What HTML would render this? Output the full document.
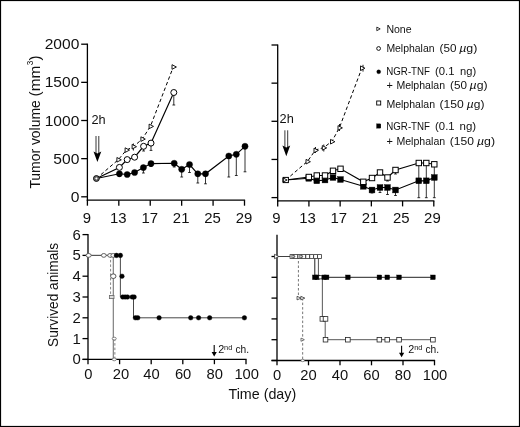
<!DOCTYPE html>
<html><head><meta charset="utf-8"><title>Figure</title>
<style>
html,body{margin:0;padding:0;background:#fff;}
body{width:520px;height:427px;overflow:hidden;position:relative;}
svg{position:absolute;left:0;top:0;display:block;will-change:transform;}
svg text{font-family:"Liberation Sans",sans-serif;fill:#111;}
</style></head><body>
<svg width="520" height="427" viewBox="0 0 520 427">
<rect x="0" y="0" width="520" height="427" fill="#fff"/>
<line x1="87.40" y1="43.60" x2="87.40" y2="200.80" stroke="#000" stroke-width="1.3" />
<line x1="81.20" y1="196.80" x2="87.40" y2="196.80" stroke="#000" stroke-width="1.3" />
<line x1="81.20" y1="158.65" x2="87.40" y2="158.65" stroke="#000" stroke-width="1.3" />
<line x1="81.20" y1="120.50" x2="87.40" y2="120.50" stroke="#000" stroke-width="1.3" />
<line x1="81.20" y1="82.35" x2="87.40" y2="82.35" stroke="#000" stroke-width="1.3" />
<line x1="81.20" y1="44.20" x2="87.40" y2="44.20" stroke="#000" stroke-width="1.3" />
<line x1="86.80" y1="200.20" x2="245.10" y2="200.20" stroke="#000" stroke-width="1.3" />
<line x1="87.40" y1="200.20" x2="87.40" y2="205.70" stroke="#000" stroke-width="1.3" />
<line x1="118.82" y1="200.20" x2="118.82" y2="205.70" stroke="#000" stroke-width="1.3" />
<line x1="150.24" y1="200.20" x2="150.24" y2="205.70" stroke="#000" stroke-width="1.3" />
<line x1="181.66" y1="200.20" x2="181.66" y2="205.70" stroke="#000" stroke-width="1.3" />
<line x1="213.08" y1="200.20" x2="213.08" y2="205.70" stroke="#000" stroke-width="1.3" />
<line x1="244.50" y1="200.20" x2="244.50" y2="205.70" stroke="#000" stroke-width="1.3" />
<text x="70.64999999999999" y="201.9" font-size="15" text-anchor="start" textLength="8.7" lengthAdjust="spacingAndGlyphs" >0</text>
<text x="53.349999999999994" y="163.75" font-size="15" text-anchor="start" textLength="26.0" lengthAdjust="spacingAndGlyphs" >500</text>
<text x="44.699999999999996" y="125.60000000000001" font-size="15" text-anchor="start" textLength="34.6" lengthAdjust="spacingAndGlyphs" >1000</text>
<text x="44.699999999999996" y="87.45000000000002" font-size="15" text-anchor="start" textLength="34.6" lengthAdjust="spacingAndGlyphs" >1500</text>
<text x="44.699999999999996" y="49.30000000000002" font-size="15" text-anchor="start" textLength="34.6" lengthAdjust="spacingAndGlyphs" >2000</text>
<text x="82.75" y="222.5" font-size="15" text-anchor="start" textLength="8.3" lengthAdjust="spacingAndGlyphs" >9</text>
<text x="110.02000000000001" y="222.5" font-size="15" text-anchor="start" textLength="16.6" lengthAdjust="spacingAndGlyphs" >13</text>
<text x="141.44" y="222.5" font-size="15" text-anchor="start" textLength="16.6" lengthAdjust="spacingAndGlyphs" >17</text>
<text x="172.85999999999999" y="222.5" font-size="15" text-anchor="start" textLength="16.6" lengthAdjust="spacingAndGlyphs" >21</text>
<text x="204.27999999999997" y="222.5" font-size="15" text-anchor="start" textLength="16.6" lengthAdjust="spacingAndGlyphs" >25</text>
<text x="235.7" y="222.5" font-size="15" text-anchor="start" textLength="16.6" lengthAdjust="spacingAndGlyphs" >29</text>
<line x1="277.70" y1="44.40" x2="277.70" y2="201.50" stroke="#000" stroke-width="1.3" />
<line x1="271.50" y1="197.60" x2="277.70" y2="197.60" stroke="#000" stroke-width="1.3" />
<line x1="271.50" y1="159.45" x2="277.70" y2="159.45" stroke="#000" stroke-width="1.3" />
<line x1="271.50" y1="121.30" x2="277.70" y2="121.30" stroke="#000" stroke-width="1.3" />
<line x1="271.50" y1="83.15" x2="277.70" y2="83.15" stroke="#000" stroke-width="1.3" />
<line x1="271.50" y1="45.00" x2="277.70" y2="45.00" stroke="#000" stroke-width="1.3" />
<line x1="277.10" y1="200.90" x2="434.40" y2="200.90" stroke="#000" stroke-width="1.3" />
<line x1="277.70" y1="200.90" x2="277.70" y2="206.40" stroke="#000" stroke-width="1.3" />
<line x1="308.92" y1="200.90" x2="308.92" y2="206.40" stroke="#000" stroke-width="1.3" />
<line x1="340.14" y1="200.90" x2="340.14" y2="206.40" stroke="#000" stroke-width="1.3" />
<line x1="371.36" y1="200.90" x2="371.36" y2="206.40" stroke="#000" stroke-width="1.3" />
<line x1="402.58" y1="200.90" x2="402.58" y2="206.40" stroke="#000" stroke-width="1.3" />
<line x1="433.80" y1="200.90" x2="433.80" y2="206.40" stroke="#000" stroke-width="1.3" />
<text x="272.15000000000003" y="223.1" font-size="15" text-anchor="start" textLength="8.3" lengthAdjust="spacingAndGlyphs" >9</text>
<text x="299.22" y="223.1" font-size="15" text-anchor="start" textLength="16.6" lengthAdjust="spacingAndGlyphs" >13</text>
<text x="330.44" y="223.1" font-size="15" text-anchor="start" textLength="16.6" lengthAdjust="spacingAndGlyphs" >17</text>
<text x="361.66" y="223.1" font-size="15" text-anchor="start" textLength="16.6" lengthAdjust="spacingAndGlyphs" >21</text>
<text x="392.88000000000005" y="223.1" font-size="15" text-anchor="start" textLength="16.6" lengthAdjust="spacingAndGlyphs" >25</text>
<text x="424.1" y="223.1" font-size="15" text-anchor="start" textLength="16.6" lengthAdjust="spacingAndGlyphs" >29</text>
<polyline points="96.40,178.50 118.20,159.80 126.40,150.10 133.40,146.70 142.20,139.10 150.40,126.40 173.30,67.00" fill="none" stroke="#000" stroke-width="1" stroke-dasharray="3.5,2.5"/>
<polyline points="96.40,178.50 119.40,167.40 127.20,159.60 134.60,157.20 143.60,146.30 151.00,143.10 173.80,92.50" fill="none" stroke="#000" stroke-width="1.15" />
<polyline points="96.40,178.50 119.40,173.80 127.20,174.50 134.60,172.50 143.40,167.60 151.00,163.60 174.20,163.30 181.70,169.30 189.50,164.50 197.80,173.80 205.50,173.80 228.80,156.00 236.30,154.30 245.00,146.30" fill="none" stroke="#000" stroke-width="1.15" />
<line x1="119.40" y1="173.80" x2="119.40" y2="176.50" stroke="#000" stroke-width="0.8" />
<line x1="118.00" y1="176.50" x2="120.80" y2="176.50" stroke="#000" stroke-width="0.8" />
<line x1="143.40" y1="167.60" x2="143.40" y2="173.00" stroke="#000" stroke-width="0.8" />
<line x1="142.00" y1="173.00" x2="144.80" y2="173.00" stroke="#000" stroke-width="0.8" />
<line x1="151.00" y1="163.60" x2="151.00" y2="166.50" stroke="#000" stroke-width="0.8" />
<line x1="149.60" y1="166.50" x2="152.40" y2="166.50" stroke="#000" stroke-width="0.8" />
<line x1="174.20" y1="163.30" x2="174.20" y2="167.00" stroke="#000" stroke-width="0.8" />
<line x1="172.80" y1="167.00" x2="175.60" y2="167.00" stroke="#000" stroke-width="0.8" />
<line x1="181.70" y1="169.30" x2="181.70" y2="177.00" stroke="#000" stroke-width="0.8" />
<line x1="180.30" y1="177.00" x2="183.10" y2="177.00" stroke="#000" stroke-width="0.8" />
<line x1="189.50" y1="164.50" x2="189.50" y2="172.50" stroke="#000" stroke-width="0.8" />
<line x1="188.10" y1="172.50" x2="190.90" y2="172.50" stroke="#000" stroke-width="0.8" />
<line x1="197.80" y1="173.80" x2="197.80" y2="183.00" stroke="#000" stroke-width="0.8" />
<line x1="196.40" y1="183.00" x2="199.20" y2="183.00" stroke="#000" stroke-width="0.8" />
<line x1="205.50" y1="173.80" x2="205.50" y2="183.80" stroke="#000" stroke-width="0.8" />
<line x1="204.10" y1="183.80" x2="206.90" y2="183.80" stroke="#000" stroke-width="0.8" />
<line x1="228.80" y1="156.00" x2="228.80" y2="177.00" stroke="#000" stroke-width="0.8" />
<line x1="227.40" y1="177.00" x2="230.20" y2="177.00" stroke="#000" stroke-width="0.8" />
<line x1="236.30" y1="154.30" x2="236.30" y2="175.50" stroke="#000" stroke-width="0.8" />
<line x1="234.90" y1="175.50" x2="237.70" y2="175.50" stroke="#000" stroke-width="0.8" />
<line x1="245.00" y1="146.30" x2="245.00" y2="171.80" stroke="#000" stroke-width="0.8" />
<line x1="243.60" y1="171.80" x2="246.40" y2="171.80" stroke="#000" stroke-width="0.8" />
<line x1="143.60" y1="146.30" x2="143.60" y2="151.00" stroke="#000" stroke-width="0.8" />
<line x1="142.20" y1="151.00" x2="145.00" y2="151.00" stroke="#000" stroke-width="0.8" />
<line x1="151.00" y1="143.10" x2="151.00" y2="150.40" stroke="#000" stroke-width="0.8" />
<line x1="149.60" y1="150.40" x2="152.40" y2="150.40" stroke="#000" stroke-width="0.8" />
<line x1="173.80" y1="92.50" x2="173.80" y2="105.00" stroke="#000" stroke-width="0.8" />
<line x1="172.40" y1="105.00" x2="175.20" y2="105.00" stroke="#000" stroke-width="0.8" />
<line x1="133.40" y1="143.50" x2="133.40" y2="150.50" stroke="#000" stroke-width="0.9" />
<circle cx="119.40" cy="173.80" r="3.1" fill="#000" stroke="#000" stroke-width="0.4"/>
<circle cx="127.20" cy="174.50" r="3.1" fill="#000" stroke="#000" stroke-width="0.4"/>
<circle cx="134.60" cy="172.50" r="3.1" fill="#000" stroke="#000" stroke-width="0.4"/>
<circle cx="143.40" cy="167.60" r="3.1" fill="#000" stroke="#000" stroke-width="0.4"/>
<circle cx="151.00" cy="163.60" r="3.1" fill="#000" stroke="#000" stroke-width="0.4"/>
<circle cx="174.20" cy="163.30" r="3.1" fill="#000" stroke="#000" stroke-width="0.4"/>
<circle cx="181.70" cy="169.30" r="3.1" fill="#000" stroke="#000" stroke-width="0.4"/>
<circle cx="189.50" cy="164.50" r="3.1" fill="#000" stroke="#000" stroke-width="0.4"/>
<circle cx="197.80" cy="173.80" r="3.1" fill="#000" stroke="#000" stroke-width="0.4"/>
<circle cx="205.50" cy="173.80" r="3.1" fill="#000" stroke="#000" stroke-width="0.4"/>
<circle cx="228.80" cy="156.00" r="3.1" fill="#000" stroke="#000" stroke-width="0.4"/>
<circle cx="236.30" cy="154.30" r="3.1" fill="#000" stroke="#000" stroke-width="0.4"/>
<circle cx="245.00" cy="146.30" r="3.1" fill="#000" stroke="#000" stroke-width="0.4"/>
<circle cx="119.40" cy="167.40" r="3.0" fill="#fff" stroke="#000" stroke-width="1"/>
<circle cx="127.20" cy="159.60" r="3.0" fill="#fff" stroke="#000" stroke-width="1"/>
<circle cx="134.60" cy="157.20" r="3.0" fill="#fff" stroke="#000" stroke-width="1"/>
<circle cx="143.60" cy="146.30" r="3.0" fill="#fff" stroke="#000" stroke-width="1"/>
<circle cx="151.00" cy="143.10" r="3.0" fill="#fff" stroke="#000" stroke-width="1"/>
<circle cx="173.80" cy="92.50" r="3.0" fill="#fff" stroke="#000" stroke-width="1"/>
<polygon points="116.90,157.50 121.30,159.80 116.90,162.10" fill="#fff" stroke="#000" stroke-width="0.9"/>
<polygon points="125.10,147.80 129.50,150.10 125.10,152.40" fill="#fff" stroke="#000" stroke-width="0.9"/>
<polygon points="132.10,144.40 136.50,146.70 132.10,149.00" fill="#fff" stroke="#000" stroke-width="0.9"/>
<polygon points="140.90,136.80 145.30,139.10 140.90,141.40" fill="#fff" stroke="#000" stroke-width="0.9"/>
<polygon points="149.10,124.10 153.50,126.40 149.10,128.70" fill="#fff" stroke="#000" stroke-width="0.9"/>
<polygon points="172.00,64.70 176.40,67.00 172.00,69.30" fill="#fff" stroke="#000" stroke-width="0.9"/>
<circle cx="96.40" cy="178.50" r="2.9" fill="#888" stroke="#000" stroke-width="1"/>
<circle cx="96.40" cy="178.50" r="1.4" fill="#fff" stroke="#000" stroke-width="0.5"/>
<text x="91.4" y="124.4" font-size="12.6" text-anchor="start" textLength="14.2" lengthAdjust="spacingAndGlyphs" >2h</text>
<line x1="96.00" y1="136.00" x2="96.00" y2="153.20" stroke="#222" stroke-width="0.9" />
<line x1="98.80" y1="136.00" x2="98.80" y2="153.20" stroke="#222" stroke-width="0.9" />
<polygon points="93.50,151.60 97.40,153.40 101.30,151.60 97.40,162.00" fill="#000"/>
<text x="279.6" y="122.7" font-size="12.6" text-anchor="start" textLength="14.2" lengthAdjust="spacingAndGlyphs" >2h</text>
<line x1="284.90" y1="130.30" x2="284.90" y2="147.20" stroke="#222" stroke-width="0.9" />
<line x1="287.70" y1="130.30" x2="287.70" y2="147.20" stroke="#222" stroke-width="0.9" />
<polygon points="282.40,145.60 286.30,147.40 290.20,145.60 286.30,156.30" fill="#000"/>
<polyline points="285.80,180.00 307.50,161.30 315.50,150.00 323.80,147.50 332.00,141.30 339.50,127.50 362.00,67.80" fill="none" stroke="#000" stroke-width="1" stroke-dasharray="3.5,2.5"/>
<polyline points="285.80,180.00 308.80,177.00 316.80,175.50 325.00,175.50 333.00,170.80 340.50,168.80 363.30,181.80 372.00,178.00 380.00,172.50 387.50,177.50 395.50,170.00 418.80,163.00 426.30,163.00 434.30,164.30" fill="none" stroke="#000" stroke-width="1.15" />
<polyline points="285.80,180.00 308.80,178.30 316.80,180.80 325.00,180.00 333.00,177.50 340.50,179.50 363.30,186.30 372.00,190.00 380.00,187.50 387.50,187.50 395.50,190.00 418.80,180.80 426.30,180.80 434.30,177.50" fill="none" stroke="#000" stroke-width="1.15" />
<line x1="395.50" y1="170.00" x2="395.50" y2="174.00" stroke="#000" stroke-width="0.8" />
<line x1="394.10" y1="174.00" x2="396.90" y2="174.00" stroke="#000" stroke-width="0.8" />
<line x1="387.50" y1="177.50" x2="387.50" y2="181.00" stroke="#000" stroke-width="0.8" />
<line x1="386.10" y1="181.00" x2="388.90" y2="181.00" stroke="#000" stroke-width="0.8" />
<line x1="418.80" y1="163.00" x2="418.80" y2="197.70" stroke="#000" stroke-width="0.8" />
<line x1="417.40" y1="197.70" x2="420.20" y2="197.70" stroke="#000" stroke-width="0.8" />
<line x1="426.30" y1="163.00" x2="426.30" y2="197.70" stroke="#000" stroke-width="0.8" />
<line x1="424.90" y1="197.70" x2="427.70" y2="197.70" stroke="#000" stroke-width="0.8" />
<line x1="434.30" y1="164.30" x2="434.30" y2="197.70" stroke="#000" stroke-width="0.8" />
<line x1="432.90" y1="197.70" x2="435.70" y2="197.70" stroke="#000" stroke-width="0.8" />
<line x1="372.00" y1="190.00" x2="372.00" y2="193.00" stroke="#000" stroke-width="0.8" />
<line x1="370.60" y1="193.00" x2="373.40" y2="193.00" stroke="#000" stroke-width="0.8" />
<line x1="380.00" y1="187.50" x2="380.00" y2="192.50" stroke="#000" stroke-width="0.8" />
<line x1="378.60" y1="192.50" x2="381.40" y2="192.50" stroke="#000" stroke-width="0.8" />
<line x1="387.50" y1="187.50" x2="387.50" y2="194.50" stroke="#000" stroke-width="0.8" />
<line x1="386.10" y1="194.50" x2="388.90" y2="194.50" stroke="#000" stroke-width="0.8" />
<line x1="395.50" y1="190.00" x2="395.50" y2="195.50" stroke="#000" stroke-width="0.8" />
<line x1="394.10" y1="195.50" x2="396.90" y2="195.50" stroke="#000" stroke-width="0.8" />
<line x1="363.00" y1="64.80" x2="363.00" y2="71.60" stroke="#000" stroke-width="0.9" />
<line x1="315.50" y1="147.00" x2="315.50" y2="153.00" stroke="#000" stroke-width="0.9" />
<line x1="323.80" y1="144.50" x2="323.80" y2="151.50" stroke="#000" stroke-width="0.9" />
<line x1="339.50" y1="124.00" x2="339.50" y2="131.00" stroke="#000" stroke-width="0.9" />
<rect x="305.90" y="175.40" width="5.8" height="5.8" fill="#000" stroke="#000" stroke-width="0.4"/>
<rect x="313.90" y="177.90" width="5.8" height="5.8" fill="#000" stroke="#000" stroke-width="0.4"/>
<rect x="322.10" y="177.10" width="5.8" height="5.8" fill="#000" stroke="#000" stroke-width="0.4"/>
<rect x="330.10" y="174.60" width="5.8" height="5.8" fill="#000" stroke="#000" stroke-width="0.4"/>
<rect x="337.60" y="176.60" width="5.8" height="5.8" fill="#000" stroke="#000" stroke-width="0.4"/>
<rect x="360.40" y="183.40" width="5.8" height="5.8" fill="#000" stroke="#000" stroke-width="0.4"/>
<rect x="369.10" y="187.10" width="5.8" height="5.8" fill="#000" stroke="#000" stroke-width="0.4"/>
<rect x="377.10" y="184.60" width="5.8" height="5.8" fill="#000" stroke="#000" stroke-width="0.4"/>
<rect x="384.60" y="184.60" width="5.8" height="5.8" fill="#000" stroke="#000" stroke-width="0.4"/>
<rect x="392.60" y="187.10" width="5.8" height="5.8" fill="#000" stroke="#000" stroke-width="0.4"/>
<rect x="415.90" y="177.90" width="5.8" height="5.8" fill="#000" stroke="#000" stroke-width="0.4"/>
<rect x="423.40" y="177.90" width="5.8" height="5.8" fill="#000" stroke="#000" stroke-width="0.4"/>
<rect x="431.40" y="174.60" width="5.8" height="5.8" fill="#000" stroke="#000" stroke-width="0.4"/>
<rect x="306.10" y="174.30" width="5.4" height="5.4" fill="#fff" stroke="#000" stroke-width="1"/>
<rect x="314.10" y="172.80" width="5.4" height="5.4" fill="#fff" stroke="#000" stroke-width="1"/>
<rect x="322.30" y="172.80" width="5.4" height="5.4" fill="#fff" stroke="#000" stroke-width="1"/>
<rect x="330.30" y="168.10" width="5.4" height="5.4" fill="#fff" stroke="#000" stroke-width="1"/>
<rect x="337.80" y="166.10" width="5.4" height="5.4" fill="#fff" stroke="#000" stroke-width="1"/>
<rect x="360.60" y="179.10" width="5.4" height="5.4" fill="#fff" stroke="#000" stroke-width="1"/>
<rect x="369.30" y="175.30" width="5.4" height="5.4" fill="#fff" stroke="#000" stroke-width="1"/>
<rect x="377.30" y="169.80" width="5.4" height="5.4" fill="#fff" stroke="#000" stroke-width="1"/>
<rect x="384.80" y="174.80" width="5.4" height="5.4" fill="#fff" stroke="#000" stroke-width="1"/>
<rect x="392.80" y="167.30" width="5.4" height="5.4" fill="#fff" stroke="#000" stroke-width="1"/>
<rect x="416.10" y="160.30" width="5.4" height="5.4" fill="#fff" stroke="#000" stroke-width="1"/>
<rect x="423.60" y="160.30" width="5.4" height="5.4" fill="#fff" stroke="#000" stroke-width="1"/>
<rect x="431.60" y="161.60" width="5.4" height="5.4" fill="#fff" stroke="#000" stroke-width="1"/>
<polygon points="306.00,159.40 310.40,161.70 306.00,164.00" fill="#fff" stroke="#000" stroke-width="0.9"/>
<polygon points="314.00,148.10 318.40,150.40 314.00,152.70" fill="#fff" stroke="#000" stroke-width="0.9"/>
<polygon points="322.30,145.60 326.70,147.90 322.30,150.20" fill="#fff" stroke="#000" stroke-width="0.9"/>
<polygon points="330.50,139.40 334.90,141.70 330.50,144.00" fill="#fff" stroke="#000" stroke-width="0.9"/>
<polygon points="338.00,125.60 342.40,127.90 338.00,130.20" fill="#fff" stroke="#000" stroke-width="0.9"/>
<polygon points="360.50,65.90 364.90,68.20 360.50,70.50" fill="#fff" stroke="#000" stroke-width="0.9"/>
<rect x="283.20" y="177.40" width="5.2" height="5.2" fill="#fff" stroke="#000" stroke-width="1"/>
<polygon points="282.90,177.80 287.10,180.00 282.90,182.20" fill="none" stroke="#000" stroke-width="0.9"/>
<polygon points="376.80,27.10 380.20,28.90 376.80,30.70" fill="#fff" stroke="#000" stroke-width="0.8"/>
<text x="386.4" y="33.3" font-size="10.5" text-anchor="start" textLength="25.2" lengthAdjust="spacingAndGlyphs" >None</text>
<circle cx="378.60" cy="48.50" r="1.9" fill="#fff" stroke="#000" stroke-width="0.9"/>
<text x="386.4" y="52.2" font-size="10.5" text-anchor="start" textLength="48.1" lengthAdjust="spacingAndGlyphs" >Melphalan</text>
<text x="439.5" y="52.2" font-size="10.5" text-anchor="start" textLength="16.9" lengthAdjust="spacingAndGlyphs" >(50</text>
<text x="459.2" y="52.2" font-size="10.5" text-anchor="start" textLength="18.2" lengthAdjust="spacingAndGlyphs" ><tspan font-style="italic">µ</tspan>g)</text>
<circle cx="378.70" cy="71.80" r="2.0" fill="#000" stroke="#000" stroke-width="0.3"/>
<text x="386.3" y="75.1" font-size="10.5" text-anchor="start" textLength="43.7" lengthAdjust="spacingAndGlyphs" >NGR-TNF</text>
<text x="435.0" y="75.1" font-size="10.5" text-anchor="start" textLength="19.5" lengthAdjust="spacingAndGlyphs" >(0.1</text>
<text x="460.0" y="75.1" font-size="10.5" text-anchor="start" textLength="16.1" lengthAdjust="spacingAndGlyphs" >ng)</text>
<text x="386.4" y="89.1" font-size="10.5" text-anchor="start" textLength="6.4" lengthAdjust="spacingAndGlyphs" >+</text>
<text x="396.4" y="89.1" font-size="10.5" text-anchor="start" textLength="48.6" lengthAdjust="spacingAndGlyphs" >Melphalan</text>
<text x="450.0" y="89.1" font-size="10.5" text-anchor="start" textLength="16.9" lengthAdjust="spacingAndGlyphs" >(50</text>
<text x="469.6" y="89.1" font-size="10.5" text-anchor="start" textLength="18.0" lengthAdjust="spacingAndGlyphs" ><tspan font-style="italic">µ</tspan>g)</text>
<rect x="376.70" y="101.00" width="4.0" height="4.0" fill="#fff" stroke="#000" stroke-width="0.9"/>
<text x="386.4" y="107.6" font-size="10.5" text-anchor="start" textLength="48.6" lengthAdjust="spacingAndGlyphs" >Melphalan</text>
<text x="439.4" y="107.6" font-size="10.5" text-anchor="start" textLength="24.3" lengthAdjust="spacingAndGlyphs" >(150</text>
<text x="466.8" y="107.6" font-size="10.5" text-anchor="start" textLength="17.6" lengthAdjust="spacingAndGlyphs" ><tspan font-style="italic">µ</tspan>g)</text>
<rect x="376.55" y="123.85" width="4.3" height="4.3" fill="#000" stroke="#000" stroke-width="0.3"/>
<text x="386.3" y="130.3" font-size="10.5" text-anchor="start" textLength="43.7" lengthAdjust="spacingAndGlyphs" >NGR-TNF</text>
<text x="435.1" y="130.3" font-size="10.5" text-anchor="start" textLength="19.5" lengthAdjust="spacingAndGlyphs" >(0.1</text>
<text x="459.6" y="130.3" font-size="10.5" text-anchor="start" textLength="16.6" lengthAdjust="spacingAndGlyphs" >ng)</text>
<text x="386.4" y="144.6" font-size="10.5" text-anchor="start" textLength="6.4" lengthAdjust="spacingAndGlyphs" >+</text>
<text x="396.4" y="144.6" font-size="10.5" text-anchor="start" textLength="48.8" lengthAdjust="spacingAndGlyphs" >Melphalan</text>
<text x="449.8" y="144.6" font-size="10.5" text-anchor="start" textLength="24.2" lengthAdjust="spacingAndGlyphs" >(150</text>
<text x="476.9" y="144.6" font-size="10.5" text-anchor="start" textLength="18.1" lengthAdjust="spacingAndGlyphs" ><tspan font-style="italic">µ</tspan>g)</text>
<line x1="88.00" y1="234.00" x2="88.00" y2="360.00" stroke="#000" stroke-width="1.3" />
<line x1="82.50" y1="359.40" x2="88.00" y2="359.40" stroke="#000" stroke-width="1.3" />
<line x1="82.50" y1="338.60" x2="88.00" y2="338.60" stroke="#000" stroke-width="1.3" />
<line x1="82.50" y1="317.80" x2="88.00" y2="317.80" stroke="#000" stroke-width="1.3" />
<line x1="82.50" y1="297.00" x2="88.00" y2="297.00" stroke="#000" stroke-width="1.3" />
<line x1="82.50" y1="276.20" x2="88.00" y2="276.20" stroke="#000" stroke-width="1.3" />
<line x1="82.50" y1="255.40" x2="88.00" y2="255.40" stroke="#000" stroke-width="1.3" />
<line x1="82.50" y1="234.60" x2="88.00" y2="234.60" stroke="#000" stroke-width="1.3" />
<line x1="82.50" y1="359.40" x2="246.60" y2="359.40" stroke="#000" stroke-width="1.3" />
<line x1="88.00" y1="359.40" x2="88.00" y2="364.20" stroke="#000" stroke-width="1.3" />
<line x1="119.60" y1="359.40" x2="119.60" y2="364.20" stroke="#000" stroke-width="1.3" />
<line x1="151.20" y1="359.40" x2="151.20" y2="364.20" stroke="#000" stroke-width="1.3" />
<line x1="182.80" y1="359.40" x2="182.80" y2="364.20" stroke="#000" stroke-width="1.3" />
<line x1="214.40" y1="359.40" x2="214.40" y2="364.20" stroke="#000" stroke-width="1.3" />
<line x1="246.00" y1="359.40" x2="246.00" y2="364.20" stroke="#000" stroke-width="1.3" />
<text x="72.5" y="364.4" font-size="15" text-anchor="start" textLength="8.3" lengthAdjust="spacingAndGlyphs" >0</text>
<text x="72.5" y="343.59999999999997" font-size="15" text-anchor="start" textLength="8.3" lengthAdjust="spacingAndGlyphs" >1</text>
<text x="72.5" y="322.79999999999995" font-size="15" text-anchor="start" textLength="8.3" lengthAdjust="spacingAndGlyphs" >2</text>
<text x="72.5" y="302.0" font-size="15" text-anchor="start" textLength="8.3" lengthAdjust="spacingAndGlyphs" >3</text>
<text x="72.5" y="281.2" font-size="15" text-anchor="start" textLength="8.3" lengthAdjust="spacingAndGlyphs" >4</text>
<text x="72.5" y="260.4" font-size="15" text-anchor="start" textLength="8.3" lengthAdjust="spacingAndGlyphs" >5</text>
<text x="72.5" y="239.59999999999997" font-size="15" text-anchor="start" textLength="8.3" lengthAdjust="spacingAndGlyphs" >6</text>
<text x="84.2" y="379.2" font-size="15" text-anchor="start" textLength="8.2" lengthAdjust="spacingAndGlyphs" >0</text>
<text x="112.69999999999999" y="379.2" font-size="15" text-anchor="start" textLength="16.4" lengthAdjust="spacingAndGlyphs" >20</text>
<text x="143.3" y="379.2" font-size="15" text-anchor="start" textLength="16.4" lengthAdjust="spacingAndGlyphs" >40</text>
<text x="174.90000000000003" y="379.2" font-size="15" text-anchor="start" textLength="16.4" lengthAdjust="spacingAndGlyphs" >60</text>
<text x="206.50000000000003" y="379.2" font-size="15" text-anchor="start" textLength="16.4" lengthAdjust="spacingAndGlyphs" >80</text>
<text x="234.39999999999998" y="379.2" font-size="15" text-anchor="start" textLength="24.6" lengthAdjust="spacingAndGlyphs" >100</text>
<line x1="277.00" y1="234.70" x2="277.00" y2="361.10" stroke="#000" stroke-width="1.3" />
<line x1="271.50" y1="360.50" x2="277.00" y2="360.50" stroke="#000" stroke-width="1.3" />
<line x1="271.50" y1="339.70" x2="277.00" y2="339.70" stroke="#000" stroke-width="1.3" />
<line x1="271.50" y1="318.90" x2="277.00" y2="318.90" stroke="#000" stroke-width="1.3" />
<line x1="271.50" y1="298.10" x2="277.00" y2="298.10" stroke="#000" stroke-width="1.3" />
<line x1="271.50" y1="277.30" x2="277.00" y2="277.30" stroke="#000" stroke-width="1.3" />
<line x1="271.50" y1="256.50" x2="277.00" y2="256.50" stroke="#000" stroke-width="1.3" />
<line x1="271.50" y1="360.50" x2="435.10" y2="360.50" stroke="#000" stroke-width="1.3" />
<line x1="277.00" y1="360.50" x2="277.00" y2="365.30" stroke="#000" stroke-width="1.3" />
<line x1="308.50" y1="360.50" x2="308.50" y2="365.30" stroke="#000" stroke-width="1.3" />
<line x1="340.00" y1="360.50" x2="340.00" y2="365.30" stroke="#000" stroke-width="1.3" />
<line x1="371.50" y1="360.50" x2="371.50" y2="365.30" stroke="#000" stroke-width="1.3" />
<line x1="403.00" y1="360.50" x2="403.00" y2="365.30" stroke="#000" stroke-width="1.3" />
<line x1="434.50" y1="360.50" x2="434.50" y2="365.30" stroke="#000" stroke-width="1.3" />
<text x="272.9" y="380.0" font-size="15" text-anchor="start" textLength="8.2" lengthAdjust="spacingAndGlyphs" >0</text>
<text x="300.3" y="380.0" font-size="15" text-anchor="start" textLength="16.4" lengthAdjust="spacingAndGlyphs" >20</text>
<text x="331.8" y="380.0" font-size="15" text-anchor="start" textLength="16.4" lengthAdjust="spacingAndGlyphs" >40</text>
<text x="363.3" y="380.0" font-size="15" text-anchor="start" textLength="16.4" lengthAdjust="spacingAndGlyphs" >60</text>
<text x="394.8" y="380.0" font-size="15" text-anchor="start" textLength="16.4" lengthAdjust="spacingAndGlyphs" >80</text>
<text x="422.7" y="380.0" font-size="15" text-anchor="start" textLength="24.6" lengthAdjust="spacingAndGlyphs" >100</text>
<polyline points="88.00,255.40 120.39,255.40 120.39,297.00 133.50,297.00 133.50,317.80 244.42,317.80" fill="none" stroke="#333" stroke-width="0.9" />
<polyline points="88.00,255.40 113.28,255.40 113.28,359.40" fill="none" stroke="#555" stroke-width="0.9" />
<polyline points="110.59,255.40 110.59,297.00" fill="none" stroke="#777" stroke-width="0.9" stroke-dasharray="2.5,2"/>
<polyline points="114.86,338.60 114.86,359.40" fill="none" stroke="#777" stroke-width="0.9" stroke-dasharray="2.5,2"/>
<ellipse cx="103.80" cy="255.40" rx="2.4" ry="1.9" fill="#fff" stroke="#555" stroke-width="0.9"/>
<ellipse cx="110.12" cy="255.40" rx="2.4" ry="1.9" fill="#fff" stroke="#555" stroke-width="0.9"/>
<ellipse cx="113.28" cy="255.40" rx="2.4" ry="1.9" fill="#fff" stroke="#555" stroke-width="0.9"/>
<circle cx="116.44" cy="255.40" r="2.3" fill="#000" stroke="#000" stroke-width="0.4"/>
<circle cx="120.39" cy="255.40" r="2.3" fill="#000" stroke="#000" stroke-width="0.4"/>
<circle cx="121.97" cy="276.20" r="2.3" fill="#000" stroke="#000" stroke-width="0.4"/>
<circle cx="122.76" cy="297.00" r="2.3" fill="#000" stroke="#000" stroke-width="0.4"/>
<circle cx="125.13" cy="297.00" r="2.3" fill="#000" stroke="#000" stroke-width="0.4"/>
<circle cx="127.50" cy="297.00" r="2.3" fill="#000" stroke="#000" stroke-width="0.4"/>
<circle cx="132.24" cy="297.00" r="2.3" fill="#000" stroke="#000" stroke-width="0.4"/>
<circle cx="134.14" cy="297.00" r="2.3" fill="#000" stroke="#000" stroke-width="0.4"/>
<circle cx="135.40" cy="317.80" r="2.3" fill="#000" stroke="#000" stroke-width="0.4"/>
<circle cx="137.77" cy="317.80" r="2.3" fill="#000" stroke="#000" stroke-width="0.4"/>
<circle cx="159.10" cy="317.80" r="2.3" fill="#000" stroke="#000" stroke-width="0.4"/>
<circle cx="190.70" cy="317.80" r="2.3" fill="#000" stroke="#000" stroke-width="0.4"/>
<circle cx="198.60" cy="317.80" r="2.3" fill="#000" stroke="#000" stroke-width="0.4"/>
<circle cx="209.66" cy="317.80" r="2.3" fill="#000" stroke="#000" stroke-width="0.4"/>
<circle cx="244.42" cy="317.80" r="2.3" fill="#000" stroke="#000" stroke-width="0.4"/>
<ellipse cx="88.60" cy="255.40" rx="2.6" ry="1.9" fill="#fff" stroke="#555" stroke-width="0.9"/>
<ellipse cx="113.28" cy="276.20" rx="2.7" ry="2.3" fill="#fff" stroke="#444" stroke-width="0.9"/>
<rect x="109.39" y="295.40" width="4.6" height="3.2" fill="#ddd" stroke="#666" stroke-width="0.8"/>
<ellipse cx="114.23" cy="338.60" rx="2.0" ry="1.4" fill="#fff" stroke="#666" stroke-width="0.8"/>
<ellipse cx="114.23" cy="359.40" rx="2.0" ry="1.4" fill="#fff" stroke="#666" stroke-width="0.8"/>
<polyline points="277.00,256.50 314.80,256.50 314.80,277.30 432.93,277.30" fill="none" stroke="#222" stroke-width="1.0" />
<polyline points="277.00,256.50 318.42,256.50 318.42,277.30 322.36,277.30 322.36,318.90 325.19,318.90 325.19,339.70 432.93,339.70" fill="none" stroke="#444" stroke-width="0.9" />
<polyline points="298.42,256.50 298.42,298.10" fill="none" stroke="#666" stroke-width="0.9" stroke-dasharray="2.5,2"/>
<polyline points="302.67,298.10 302.67,360.50" fill="none" stroke="#666" stroke-width="0.9" stroke-dasharray="2.5,2"/>
<rect x="290.06" y="254.60" width="3.8" height="3.8" fill="#fff" stroke="#333" stroke-width="0.8"/>
<rect x="294.00" y="254.60" width="3.8" height="3.8" fill="#fff" stroke="#333" stroke-width="0.8"/>
<rect x="297.94" y="254.60" width="3.8" height="3.8" fill="#fff" stroke="#333" stroke-width="0.8"/>
<rect x="301.88" y="254.60" width="3.8" height="3.8" fill="#fff" stroke="#333" stroke-width="0.8"/>
<rect x="305.81" y="254.60" width="3.8" height="3.8" fill="#fff" stroke="#333" stroke-width="0.8"/>
<rect x="309.75" y="254.60" width="3.8" height="3.8" fill="#fff" stroke="#333" stroke-width="0.8"/>
<rect x="313.69" y="254.60" width="3.8" height="3.8" fill="#fff" stroke="#333" stroke-width="0.8"/>
<rect x="317.62" y="254.60" width="3.8" height="3.8" fill="#fff" stroke="#333" stroke-width="0.8"/>
<polygon points="291.84,254.80 295.24,256.50 291.84,258.20" fill="#ddd" stroke="#444" stroke-width="0.7"/>
<polygon points="299.71,254.80 303.11,256.50 299.71,258.20" fill="#ddd" stroke="#444" stroke-width="0.7"/>
<polygon points="274.50,254.30 278.90,256.50 274.50,258.70" fill="#fff" stroke="#333" stroke-width="0.8"/>
<rect x="312.50" y="275.00" width="4.6" height="4.6" fill="#000" stroke="#000" stroke-width="0.4"/>
<rect x="314.86" y="275.00" width="4.6" height="4.6" fill="#000" stroke="#000" stroke-width="0.4"/>
<rect x="321.95" y="275.00" width="4.6" height="4.6" fill="#000" stroke="#000" stroke-width="0.4"/>
<rect x="324.31" y="275.00" width="4.6" height="4.6" fill="#000" stroke="#000" stroke-width="0.4"/>
<rect x="345.57" y="275.00" width="4.6" height="4.6" fill="#000" stroke="#000" stroke-width="0.4"/>
<rect x="377.07" y="275.00" width="4.6" height="4.6" fill="#000" stroke="#000" stroke-width="0.4"/>
<rect x="384.95" y="275.00" width="4.6" height="4.6" fill="#000" stroke="#000" stroke-width="0.4"/>
<rect x="396.76" y="275.00" width="4.6" height="4.6" fill="#000" stroke="#000" stroke-width="0.4"/>
<rect x="430.62" y="275.00" width="4.6" height="4.6" fill="#000" stroke="#000" stroke-width="0.4"/>
<rect x="318.71" y="275.70" width="3.2" height="3.2" fill="#fff" stroke="#000" stroke-width="0.7"/>
<polygon points="297.05,296.30 301.05,298.10 297.05,299.90" fill="#fff" stroke="#333" stroke-width="0.8"/>
<polygon points="300.83,296.30 304.83,298.10 300.83,299.90" fill="#fff" stroke="#333" stroke-width="0.8"/>
<polygon points="300.97,338.10 304.37,339.70 300.97,341.30" fill="#fff" stroke="#444" stroke-width="0.7"/>
<ellipse cx="302.67" cy="360.50" rx="1.6" ry="1.2" fill="#fff" stroke="#666" stroke-width="0.7"/>
<rect x="320.06" y="316.60" width="4.6" height="4.6" fill="#fff" stroke="#222" stroke-width="0.8"/>
<rect x="323.21" y="316.60" width="4.6" height="4.6" fill="#fff" stroke="#222" stroke-width="0.8"/>
<rect x="323.21" y="337.40" width="4.6" height="4.6" fill="#fff" stroke="#222" stroke-width="0.8"/>
<rect x="345.57" y="337.40" width="4.6" height="4.6" fill="#fff" stroke="#222" stroke-width="0.8"/>
<rect x="377.07" y="337.40" width="4.6" height="4.6" fill="#fff" stroke="#222" stroke-width="0.8"/>
<rect x="384.95" y="337.40" width="4.6" height="4.6" fill="#fff" stroke="#222" stroke-width="0.8"/>
<rect x="396.76" y="337.40" width="4.6" height="4.6" fill="#fff" stroke="#222" stroke-width="0.8"/>
<rect x="430.62" y="337.40" width="4.6" height="4.6" fill="#fff" stroke="#222" stroke-width="0.8"/>
<line x1="214.20" y1="345.10" x2="214.20" y2="354.60" stroke="#000" stroke-width="1.1" />
<polygon points="211.60,352.10 216.80,352.10 214.20,356.60" fill="#000"/>
<text x="218.2" y="352.6" font-size="10" text-anchor="start" textLength="6" lengthAdjust="spacingAndGlyphs" >2</text>
<text x="224.1" y="349.6" font-size="7" text-anchor="start" textLength="8.2" lengthAdjust="spacingAndGlyphs" >nd</text>
<text x="235.39999999999998" y="352.6" font-size="10.2" text-anchor="start" textLength="13.6" lengthAdjust="spacingAndGlyphs" >ch.</text>
<line x1="401.60" y1="345.80" x2="401.60" y2="355.30" stroke="#000" stroke-width="1.1" />
<polygon points="399.00,352.80 404.20,352.80 401.60,357.30" fill="#000"/>
<text x="408.3" y="353.3" font-size="10" text-anchor="start" textLength="6" lengthAdjust="spacingAndGlyphs" >2</text>
<text x="414.2" y="350.3" font-size="7" text-anchor="start" textLength="8.2" lengthAdjust="spacingAndGlyphs" >nd</text>
<text x="425.5" y="353.3" font-size="10.2" text-anchor="start" textLength="13.6" lengthAdjust="spacingAndGlyphs" >ch.</text>
<text transform="translate(39.9,188.6) rotate(-90)" font-size="14.6" textLength="88.3" lengthAdjust="spacingAndGlyphs">Tumor volume</text>
<text transform="translate(39.9,96.4) rotate(-90)" font-size="14.6" textLength="30.7" lengthAdjust="spacingAndGlyphs">(mm</text>
<text transform="translate(33.0,65.3) rotate(-90)" font-size="8.4" textLength="4.6" lengthAdjust="spacingAndGlyphs">3</text>
<text transform="translate(39.9,60.5) rotate(-90)" font-size="14.6" textLength="5" lengthAdjust="spacingAndGlyphs">)</text>
<text transform="translate(57.9,347.0) rotate(-90)" font-size="14.5" textLength="104.2" lengthAdjust="spacingAndGlyphs">Survived animals</text>
<text x="228.5" y="398.8" font-size="14.3" text-anchor="start" textLength="67.7" lengthAdjust="spacingAndGlyphs" >Time (day)</text>
<rect x="0.5" y="0.5" width="519" height="426" fill="none" stroke="#000" stroke-width="1.2"/>
</svg>
</body></html>
